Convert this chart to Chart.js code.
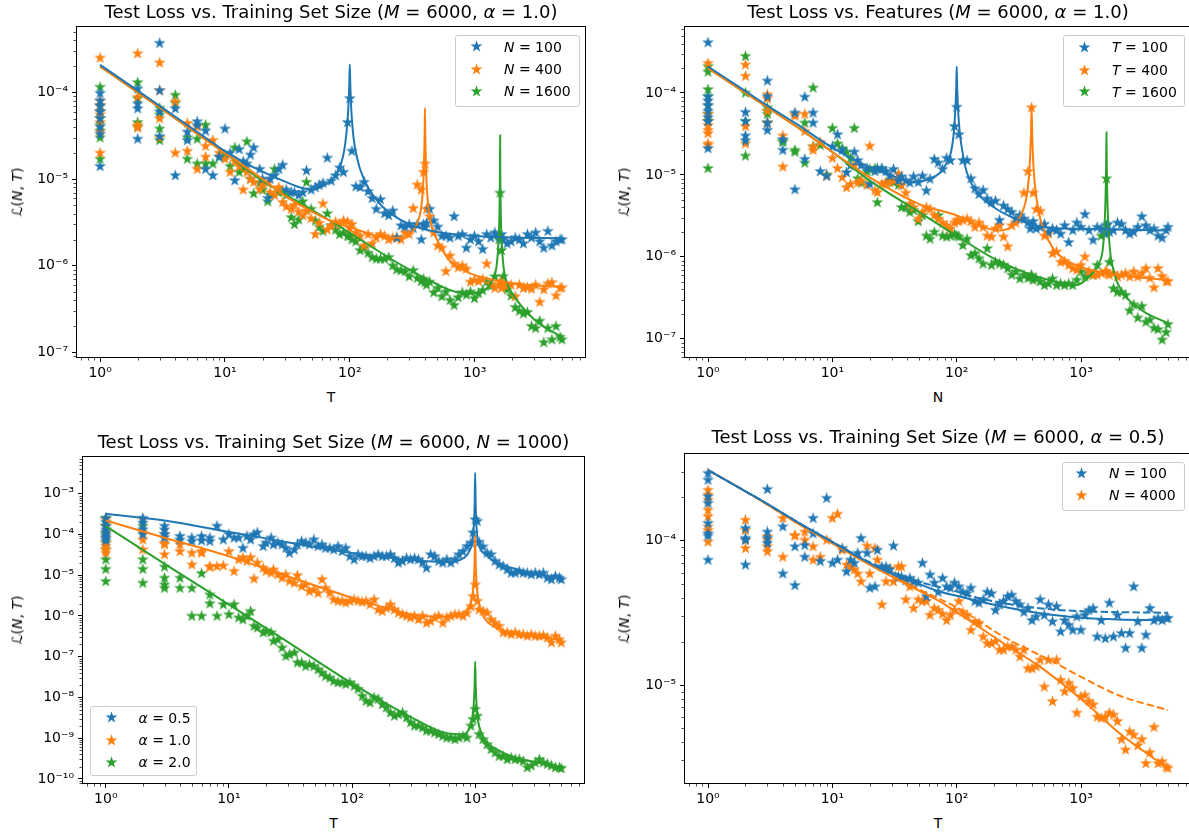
<!DOCTYPE html>
<html><head><meta charset="utf-8">
<script src="https://cdn.jsdelivr.net/npm/chart.js@4.4.1/dist/chart.umd.min.js"></script>
<style>
html,body{margin:0;padding:0;background:#fff;overflow:hidden;width:1189px;height:834px;}
body{position:relative;font-family:'DejaVu Sans',sans-serif;color:#000;}
canvas{position:absolute;}
.txt{position:absolute;white-space:nowrap;transform:translate(-50%,-50%);line-height:1;}
.title{font-size:18px;}
.lab{font-size:14px;}
.ylab{font-size:14px;transform:translate(-50%,-50%) rotate(-90deg);}
.legend{position:absolute;background:rgba(255,255,255,0.8);border:1px solid #cccccc;border-radius:3px;box-sizing:border-box;}
.legtxt{position:absolute;font-size:14px;white-space:nowrap;transform:translateY(-50%);line-height:1;}
</style>
</head><body>
<script>
// ---------------- DATA ----------------
// Panel 1: Test loss vs training set size T (M=6000, alpha=1.0)
const P1_T = [1,1,1,1,1,1,1,1, 2,2,2,2, 3,3,3,3, 4,4, 5,5, 6,6, 7,7,
 8,9,10,11,12,13,14,15,16,17,
 19,20,22,23,25,27,29,31,34,36,
 39,42,45,49,53,57,61,66,71,77,
 83,89,96,100,104,112,121,130,140,151,
 163,176,190,205,221,238,257,277,299,322,
 347,374,390,400,412,436,470,507,546,589,
 635,685,738,796,858,925,997,1075,1159,1250,
 1347,1452,1566,1600,1640,1688,1820,1962,2115,2280,
 2458,2650,2857,3080,3320,3579,3858,4160,4484,4834,
 5000];
const P1_N100 = [9.8e-5,8e-5,7e-5,6e-5,5e-5,4e-5,3.3e-5,1.4e-5, 1.1e-4,7.4e-5,6.5e-5,2.9e-5, 3.7e-4,1.05e-4,6e-5,3.1e-5, 6.5e-5,1.1e-5, 3.5e-5,2.8e-5, 4.6e-5,4.2e-5, 3.6e-5,1.3e-5,
 1.1e-5,1.8e-5,3.8e-5,2e-5,9.6e-6,2.2e-5,1.6e-5,1.5e-5,1.9e-5,2.3e-5,
 1.3e-5,1e-5,6e-6,1e-5,1.1e-5,1.3e-5,1.45e-5,7.5e-6,7e-6,7e-6,
 6.5e-6,7e-6,1.25e-5,7.5e-6,8e-6,8.5e-6,9e-6,1.75e-5,9.5e-6,1.1e-5,
 1.35e-5,1.2e-5,4.5e-5,8.5e-5,2.1e-5,8.2e-6,8e-6,9.2e-6,7.2e-6,6e-6,
 4.5e-6,5.8e-6,4e-6,3.8e-6,4.3e-6,2.1e-6,2.9e-6,2.8e-6,3e-6,2.7e-6,
 3e-6,2e-6,3e-6,2.8e-6,3.1e-6,4.5e-6,3.3e-6,2.8e-6,2.2e-6,2.2e-6,
 2.1e-6,3.7e-6,2.2e-6,2.3e-6,1.6e-6,2e-6,2.2e-6,1.9e-6,1.55e-6,2.3e-6,
 2.1e-6,2.4e-6,2.2e-6,2.1e-6,2.3e-6,2e-6,1.8e-6,1.9e-6,2.1e-6,2e-6,
 1.8e-6,2.3e-6,2.1e-6,2.4e-6,1.9e-6,1.6e-6,2.5e-6,1.7e-6,1.9e-6,2e-6,
 2e-6];
const P1_N400 = [2.5e-4,8e-5,7e-5,6e-5,5.5e-5,4.5e-5,3.5e-5,2e-5, 2.8e-4,8.8e-5,4.2e-5,3.9e-5, 2.2e-4,1.05e-4,5e-5,3e-5, 7.8e-5,2e-5, 4.4e-5,2.1e-5, 1.3e-5,4e-5, 2.4e-5,1.8e-5,
 2.8e-5,2e-5,1.7e-5,1.2e-5,1.6e-5,1.4e-5,7.5e-6,1.2e-5,1e-5,9.2e-6,
 7.6e-6,8.8e-6,9e-6,7e-6,6.5e-6,8e-6,5.4e-6,4.8e-6,4.5e-6,5e-6,
 4.2e-6,3.8e-6,4.3e-6,3.5e-6,2.3e-6,3.1e-6,5.2e-6,2.6e-6,2.9e-6,3.2e-6,
 3e-6,3.3e-6,3.2e-6,2.7e-6,3e-6,2.4e-6,2.2e-6,1.7e-6,2.3e-6,1.8e-6,
 2.1e-6,2.3e-6,2.2e-6,2e-6,2.1e-6,2.1e-6,2e-6,2.4e-6,2.3e-6,4.6e-6,
 8.6e-6,7.5e-6,1.2e-5,1.5e-5,4.5e-6,3.7e-6,2.4e-6,1.7e-6,1.6e-6,8.6e-7,
 1.3e-6,1.05e-6,9.5e-7,1e-6,9.2e-7,6.5e-7,6.8e-7,6.6e-7,7e-7,1.05e-6,
 6.2e-7,5.5e-7,6e-7,6.5e-7,5.5e-7,6.2e-7,5.8e-7,6e-7,4.4e-7,6e-7,
 5.5e-7,5.6e-7,5.4e-7,6e-7,3.8e-7,5.3e-7,6.2e-7,6.4e-7,4.5e-7,5.5e-7,
 5.6e-7];
const P1_N1600 = [1.15e-4,7e-5,6e-5,5e-5,4.2e-5,3.6e-5,3e-5,1.7e-5, 1.3e-4,8.5e-5,4.5e-5,4e-5, 6.6e-5,3.8e-5,2.8e-5,5.5e-5, 9.3e-5,7.5e-5, 1.7e-5,3e-5, 2.9e-5,1.5e-5, 4.2e-5,1.5e-5,
 1.5e-5,1.8e-5,1.9e-5,1.4e-5,2.3e-5,1.2e-5,1.3e-5,2.7e-5,1e-5,6.8e-6,
 9e-6,7.5e-6,5.5e-6,6.5e-6,1.3e-5,7e-6,7.2e-6,6.5e-6,3.6e-6,3e-6,
 3.4e-6,5.5e-6,9.2e-6,4.5e-6,3.3e-6,2.8e-6,2.5e-6,4e-6,2.9e-6,2.6e-6,
 2.3e-6,2.4e-6,2.2e-6,2.2e-6,2e-6,1.9e-6,1.5e-6,1.6e-6,1.4e-6,1.25e-6,
 1.2e-6,1.2e-6,1.2e-6,1.25e-6,1e-6,9e-7,8.8e-7,8.6e-7,7.5e-7,8.8e-7,
 7.2e-7,6.6e-7,7e-7,6.4e-7,6e-7,6.5e-7,4.9e-7,5.5e-7,4.4e-7,5e-7,
 4e-7,3.5e-7,4.3e-7,4.9e-7,4.6e-7,5e-7,4.2e-7,4.8e-7,5.2e-7,6.5e-7,
 5.8e-7,7.5e-7,2e-6,6.9e-6,1.5e-6,7.5e-7,5.3e-7,4.5e-7,3.3e-7,3e-7,
 2.8e-7,2.9e-7,2e-7,1.9e-7,2.3e-7,1.3e-7,1.9e-7,1.4e-7,2e-7,1.5e-7,
 1.4e-7];
const P1_LINE_N100 = [[1,2.08e-4],[2,1.05e-4],[3,7e-5],[5,4.2e-5],[7,3e-5],[10,2.1e-5],[15,1.5e-5],[20,1.22e-5],[30,9.4e-6],[40,8e-6],[50,7.6e-6],[60,8.2e-6],[70,9.5e-6],[80,1.2e-5],[85,1.5e-5],[90,2.1e-5],[94,3.4e-5],[97,6e-5],[99,1.2e-4],[100,2.1e-4],[101,1.2e-4],[103,6e-5],[106,3.5e-5],[110,2.3e-5],[120,1.35e-5],[130,1e-5],[140,8e-6],[170,5.4e-6],[200,4.3e-6],[300,3e-6],[500,2.45e-6],[1000,2.2e-6],[2000,2.12e-6],[5000,2.08e-6]];
const P1_LINE_N400 = [[1,2e-4],[2,1e-4],[3,6.7e-5],[5,4e-5],[10,2e-5],[20,1e-5],[30,6.5e-6],[50,4.2e-6],[70,3.3e-6],[100,2.8e-6],[150,2.3e-6],[200,2.1e-6],[250,2.1e-6],[300,2.3e-6],[340,2.9e-6],[370,4.3e-6],[385,7.5e-6],[393,1.5e-5],[398,3.5e-5],[400,6.6e-5],[402,3.5e-5],[407,1.5e-5],[415,7.5e-6],[430,4.3e-6],[460,2.6e-6],[500,2e-6],[600,1.25e-6],[800,9e-7],[1000,7.8e-7],[2000,6.3e-7],[5000,5.7e-7]];
const P1_LINE_N1600 = [[1,2e-4],[2,1e-4],[3,6.7e-5],[5,4e-5],[10,2e-5],[20,9.5e-6],[50,4.4e-6],[100,2.4e-6],[200,1.27e-6],[400,7.2e-7],[700,5e-7],[1000,4.8e-7],[1200,5.2e-7],[1400,7e-7],[1500,1e-6],[1550,1.8e-6],[1580,4e-6],[1595,1.2e-5],[1600,3.2e-5],[1605,1.2e-5],[1620,4e-6],[1650,1.8e-6],[1700,1e-6],[1800,6.5e-7],[2000,4.8e-7],[3000,2.4e-7],[5000,1.5e-7]];

// Panel 2: Test loss vs features N (M=6000, alpha=1.0)
const P2_N = P1_T.slice();
const P2_T100 = [4.1e-4,9e-5,8e-5,7e-5,6e-5,5e-5,4.5e-5,2.1e-5, 5.8e-5,3e-5,2.6e-5,4.5e-5, 1.4e-4,9e-5,3.5e-5,4.3e-5, 2e-5,2.7e-5, 5.7e-5,6.6e-6, 8.9e-5,1.55e-5, 5.7e-5,4.3e-5,
 1.1e-5,9.7e-6,2.2e-5,3.1e-5,2e-5,1.07e-5,1.3e-5,1.9e-5,1.5e-5,1.3e-5,
 1.2e-5,7.7e-6,1.1e-5,1.2e-5,1.2e-5,1.1e-5,9.7e-6,1.17e-5,8.5e-6,9.5e-6,
 8.5e-6,8e-6,9.5e-6,8.1e-6,9.7e-6,6.4e-6,8.9e-6,1.55e-5,1.4e-5,1.17e-5,
 1.6e-5,1.5e-5,3.9e-5,6.7e-5,3.1e-5,1.5e-5,1.5e-5,9e-6,6.8e-6,5.8e-6,
 6.5e-6,5.1e-6,4.6e-6,4.8e-6,2.8e-6,4.2e-6,3.8e-6,3.5e-6,2.9e-6,3.2e-6,
 2.9e-6,2.6e-6,2.2e-6,2.4e-6,2.7e-6,2.2e-6,2.3e-6,2.5e-6,2e-6,2.2e-6,
 2.1e-6,1.9e-6,2.4e-6,1.5e-6,2.1e-6,2.6e-6,2.3e-6,3.3e-6,2.1e-6,1.6e-6,
 2.3e-6,2.2e-6,1.9e-6,2.4e-6,2.5e-6,2e-6,2.1e-6,2.6e-6,2.5e-6,2.1e-6,
 1.9e-6,2e-6,2.3e-6,3.1e-6,2.4e-6,2.1e-6,2.2e-6,1.8e-6,1.7e-6,2.1e-6,
 2.3e-6];
const P2_T400 = [2.3e-4,5.5e-5,4.5e-5,4e-5,3.5e-5,3.2e-5,2.4e-5,2.3e-5, 2.2e-4,1.6e-4,3.9e-5,2.4e-5, 9.5e-5,8.5e-5,4.3e-5,6e-5, 3e-5,1.25e-5, 5.5e-5,5.2e-5, 5.5e-5,3.4e-5, 2e-5,2.2e-5,
 2.5e-5,9.7e-6,1.6e-5,1.2e-5,9.3e-6,7e-6,7.7e-6,1.3e-5,8e-6,8.5e-6,
 7.5e-6,2.25e-5,6.4e-6,6.1e-6,7.7e-6,8e-6,8.1e-6,8.5e-6,1.03e-5,7.4e-6,
 6e-6,4.4e-6,4e-6,2.9e-6,3.5e-6,4e-6,3.8e-6,3.2e-6,2.9e-6,2.6e-6,
 2.4e-6,2.2e-6,2.6e-6,2.8e-6,2.7e-6,2.8e-6,2.9e-6,2.7e-6,2.3e-6,2.6e-6,
 2.3e-6,1.8e-6,1.75e-6,2.2e-6,2.4e-6,1.75e-6,1.33e-6,2.4e-6,2.6e-6,2.9e-6,
 6e-6,1.1e-5,null,6.6e-5,6e-6,3.8e-6,3.6e-6,1.8e-6,1.9e-6,1.1e-6,
 1.15e-6,8.6e-7,8.8e-7,7.9e-7,7.2e-7,6.9e-7,7.9e-7,1e-6,6.6e-7,6e-7,
 6e-7,6.3e-7,6.6e-7,6.6e-7,6.2e-7,6e-7,6.3e-7,5.7e-7,6e-7,6.3e-7,
 5.7e-7,6.6e-7,5.7e-7,6.3e-7,7.2e-7,5.5e-7,4.2e-7,7.2e-7,5.8e-7,5e-7,
 5e-7];
const P2_T1600 = [2.1e-4,1.8e-4,1.1e-4,9e-5,7e-5,5.5e-5,4.5e-5,1.2e-5, 2.8e-4,1e-4,4.5e-5,1.7e-5, 6.6e-5,5.5e-5,4.3e-5,6e-5, 2.6e-5,2.5e-5, 2e-5,1.9e-5, 4.3e-5,1.4e-5, 1.15e-4,2.2e-5,
 2.3e-5,1e-5,3.7e-5,2.4e-5,2.1e-5,1.9e-5,1.6e-5,3.7e-5,9e-6,8e-6,
 1.1e-5,1.17e-5,1.2e-5,4.6e-6,1.17e-5,8e-6,8.5e-6,8.1e-6,7.5e-6,4e-6,
 4e-6,3.5e-6,3.7e-6,2.7e-6,3.2e-6,1.8e-6,1.65e-6,2e-6,3.2e-6,1.8e-6,
 1.75e-6,1.8e-6,1.9e-6,1.8e-6,1.75e-6,1.38e-6,1.65e-6,1.04e-6,1.1e-6,9.5e-7,
 8.2e-7,1.26e-6,7.9e-7,8.6e-7,8.2e-7,7.9e-7,7.2e-7,6e-7,6.6e-7,5.4e-7,
 6e-7,5.5e-7,5.7e-7,6e-7,5.2e-7,5.4e-7,5e-7,4.5e-7,4.7e-7,5.4e-7,
 4.5e-7,4.7e-7,4.5e-7,4.7e-7,4.5e-7,5.2e-7,6.6e-7,5.7e-7,6.3e-7,6e-7,
 7.9e-7,1.8e-6,null,9e-6,null,8.6e-7,4.1e-7,3.7e-7,3.7e-7,3.4e-7,
 2.2e-7,2.6e-7,1.8e-7,2.5e-7,1.6e-7,1.7e-7,1.35e-7,1.3e-7,9.7e-8,1.2e-7,
 1.5e-7];
const P2_LINE_T100 = [[1,2.1e-4],[2,1.05e-4],[3,7e-5],[5,4.3e-5],[10,2.15e-5],[20,1.23e-5],[30,9.8e-6],[45,8.1e-6],[60,8.9e-6],[75,1.1e-5],[85,1.5e-5],[90,1.9e-5],[94,2.9e-5],[97,5.5e-5],[99,1.1e-4],[100,2.1e-4],[101,1.1e-4],[103,5.5e-5],[106,3.2e-5],[110,2.1e-5],[120,1.1e-5],[150,5.8e-6],[200,4e-6],[300,2.9e-6],[500,2.3e-6],[1000,2.2e-6],[5000,2.1e-6]];
const P2_LINE_T400 = [[1,2e-4],[2,1e-4],[3,6.7e-5],[5,4e-5],[10,1.9e-5],[20,9.3e-6],[50,4.4e-6],[100,3.2e-6],[150,2.4e-6],[220,2.1e-6],[270,2.3e-6],[330,3.3e-6],[365,5.5e-6],[385,1.2e-5],[395,3e-5],[400,6.6e-5],[405,3e-5],[415,1.2e-5],[440,5e-6],[470,2.9e-6],[500,2.2e-6],[600,1.25e-6],[800,8.7e-7],[1000,7.5e-7],[2000,6e-7],[5000,5.2e-7]];
const P2_LINE_T1600 = [[1,2e-4],[2,1e-4],[3,6.7e-5],[5,4e-5],[10,1.9e-5],[20,8.5e-6],[50,3.5e-6],[100,1.8e-6],[200,9.5e-7],[400,6e-7],[700,4.8e-7],[900,4.5e-7],[1200,6e-7],[1400,8.5e-7],[1500,1.3e-6],[1560,3.5e-6],[1590,1.2e-5],[1600,3.3e-5],[1610,1.2e-5],[1640,3.5e-6],[1700,1.3e-6],[1800,7.5e-7],[2000,4.5e-7],[3000,2.3e-7],[5000,1.55e-7]];

// Panel 3: Test loss vs T (M=6000, N=1000), alpha = 0.5 / 1.0 / 2.0
const P3_T = [1,1,1,1,1,1,1,1, 2,2,2,2, 3,3,3,3, 4,4, 5,5, 6,6, 7,7,
 8,9,10,11,12,13,14,15,16,17,
 19,20,22,23,25,27,29,31,34,36,
 39,42,45,49,53,57,61,66,71,77,
 83,89,96,104,112,121,130,140,151,163,
 176,190,205,221,238,257,277,299,322,347,
 374,403,435,469,506,546,589,635,685,738,
 796,858,925,960,1000,1040,1075,1159,1250,1347,
 1452,1566,1688,1820,1962,2115,2280,2458,2650,2857,
 3080,3320,3579,3858,4160,4484,4834,5000];
const P3_A05 = [2.5e-4,2e-4,1.6e-4,1.3e-4,1.1e-4,9e-5,8e-5,7e-5, 2.5e-4,1.9e-4,1.3e-4,1e-4, 1.6e-4,1.3e-4,1e-4,8.5e-5, 9e-5,7.4e-5, 6.8e-5,8.2e-5, 9e-5,7e-5, 8.2e-5,6.8e-5,
 1.6e-4,7.4e-5,1e-4,8.2e-5,8.2e-5,4.6e-5,9e-5,7.4e-5,1e-4,1.1e-4,
 5.1e-5,6.2e-5,8.2e-5,5.6e-5,6.2e-5,5.6e-5,4.6e-5,3.5e-5,4.2e-5,5.6e-5,
 6.8e-5,6.2e-5,5.6e-5,7.4e-5,5.1e-5,5.6e-5,4.6e-5,4.6e-5,4.2e-5,5.1e-5,
 3.8e-5,4.6e-5,2.9e-5,2.4e-5,3.2e-5,2.9e-5,2.9e-5,2.6e-5,2.9e-5,3.2e-5,
 2.9e-5,2.9e-5,3.2e-5,2.6e-5,2e-5,2.2e-5,2.6e-5,2.4e-5,2.6e-5,2.4e-5,
 2e-5,1.5e-5,3.2e-5,2.9e-5,2.2e-5,2e-5,2.4e-5,2e-5,2.4e-5,3.2e-5,
 3.8e-5,5.1e-5,6.2e-5,1.1e-4,2.3e-4,2.1e-4,6.5e-5,5e-5,3.5e-5,3.2e-5,
 2.2e-5,1.8e-5,1.64e-5,1.36e-5,1.13e-5,1.13e-5,1.24e-5,1.13e-5,1.13e-5,1.03e-5,
 1.13e-5,1.03e-5,1.13e-5,8.5e-6,7.8e-6,9.4e-6,8.5e-6,7.8e-6];
const P3_A10 = [2.3e-4,1.6e-4,1.1e-4,8e-5,6.2e-5,5.1e-5,4.2e-5,3.5e-5, 2.3e-4,1.1e-4,7.4e-5,4.2e-5, 1e-4,5.6e-5,3.2e-5,6.2e-5, 5.6e-5,3.8e-5, 1.8e-5,3.5e-5, 3.5e-5,3.8e-5, 1.6e-5,1.6e-5,
 1.64e-5,1.7e-5,3.8e-5,1.24e-5,2.4e-5,2.7e-5,2.2e-5,2.7e-5,8.1e-6,2e-5,
 1.5e-5,1.24e-5,1.13e-5,1.36e-5,1.03e-5,8.5e-6,1.03e-5,7.1e-6,6.4e-6,9.8e-6,
 5.3e-6,5.8e-6,4e-6,4.4e-6,3.6e-6,7.8e-6,4.8e-6,3.6e-6,2.5e-6,2.3e-6,
 2.3e-6,2.1e-6,2.3e-6,2.5e-6,2.3e-6,2.2e-6,2.3e-6,1.9e-6,2.5e-6,1.42e-6,
 1.3e-6,1.55e-6,1.9e-6,1.42e-6,1.18e-6,1.08e-6,9.9e-7,9e-7,9.9e-7,8.1e-7,
 9.9e-7,6.7e-7,7.4e-7,9e-7,9.9e-7,6.7e-7,9e-7,9.9e-7,1.08e-6,1.08e-6,
 9.9e-7,1.18e-6,1.7e-6,3e-6,5.8e-6,2.3e-6,1.42e-6,1.3e-6,1.18e-6,8.1e-7,
 6.7e-7,5.6e-7,3.9e-7,3.9e-7,3.5e-7,3.9e-7,3.5e-7,3.5e-7,3.2e-7,3.5e-7,
 3.2e-7,3.2e-7,3.3e-7,2.9e-7,2.2e-7,3.2e-7,2.6e-7,2.2e-7];
const P3_A20 = [2.5e-4,1.6e-4,1e-4,6.2e-5,4.2e-5,2.4e-5,1.4e-5,7e-6, 1.6e-4,2.4e-5,1.4e-5,6.4e-6, 1.6e-5,8.5e-6,5.8e-6,4.8e-6, 8.5e-6,4.8e-6, 9.9e-7,4.8e-6, 1.1e-5,9.9e-7, 3.3e-6,2e-6,
 9.9e-7,1.9e-6,1.08e-6,1.9e-6,9e-7,8.1e-7,9.9e-7,1.3e-6,5.6e-7,5.1e-7,
 3.9e-7,4.2e-7,3.9e-7,2.4e-7,2.6e-7,1.65e-7,1.03e-7,1.13e-7,1.24e-7,7.1e-8,
 7.1e-8,5.8e-8,6.4e-8,5.8e-8,4.8e-8,4e-8,3.3e-8,3e-8,2.5e-8,2.3e-8,
 2.3e-8,2.1e-8,2.3e-8,1.9e-8,1.6e-8,1.08e-8,8.1e-9,7.4e-9,9.9e-9,9e-9,
 6.7e-9,5.6e-9,4.2e-9,3.5e-9,3.8e-9,4.2e-9,3.2e-9,2.4e-9,2e-9,2e-9,
 1.8e-9,1.5e-9,1.5e-9,1.35e-9,1.24e-9,1.12e-9,1.02e-9,1.02e-9,9.3e-10,1.02e-9,
 1.12e-9,1.02e-9,2e-9,2.9e-9,5.1e-9,3.5e-9,1.24e-9,9.3e-10,7e-10,5.3e-10,
 4.4e-10,3.6e-10,3.6e-10,3e-10,3.3e-10,3e-10,3e-10,2.7e-10,1.9e-10,2.1e-10,
 2.5e-10,3e-10,2.5e-10,2.3e-10,2.1e-10,1.9e-10,1.9e-10,1.8e-10];
const P3_LINE_A05 = [[1,3.2e-4],[3,2.2e-4],[10,1.15e-4],[20,8e-5],[40,5.5e-5],[100,3.5e-5],[200,2.7e-5],[400,2.2e-5],[600,2.1e-5],[800,2.6e-5],[900,4e-5],[960,9e-5],[990,5e-4],[1000,3.2e-3],[1010,5e-4],[1040,9e-5],[1100,4.5e-5],[1200,3.3e-5],[1500,2e-5],[2000,1.5e-5],[3000,1.1e-5],[5000,8.5e-6]];
const P3_LINE_A10 = [[1,2.2e-4],[3,8.3e-5],[10,2.9e-5],[30,9.4e-6],[100,2.8e-6],[300,1.1e-6],[600,9.5e-7],[800,1.2e-6],[900,1.8e-6],[960,4e-6],[990,2e-5],[1000,9.3e-5],[1010,2e-5],[1040,4e-6],[1100,1.5e-6],[1200,8.5e-7],[1500,5e-7],[2000,3.9e-7],[3000,3.1e-7],[5000,2.6e-7]];
const P3_LINE_A20 = [[1,1.6e-4],[3,1.9e-5],[10,1.9e-6],[30,2.3e-7],[100,2.2e-8],[300,3.3e-9],[600,1.3e-9],[800,1.25e-9],[900,1.8e-9],[960,4e-9],[990,2e-8],[1000,7.6e-8],[1010,2e-8],[1040,4e-9],[1100,1.6e-9],[1200,9e-10],[1500,5.3e-10],[2000,3.5e-10],[3000,2.6e-10],[5000,1.9e-10]];

// Panel 4: Test loss vs T (M=6000, alpha=0.5), N = 100 / 4000
const P4_T = [1,1,1,1,1,1,1,1, 2,2,2,2, 3,3,3,3, 4,4, 5,5, 6,6, 7,7,
 8,9,10,11,12,13,14,15,16,17,
 19,20,22,23,25,27,29,31,34,36,
 39,42,45,49,53,57,61,66,71,77,
 83,89,96,104,112,121,130,140,151,163,
 176,190,205,221,238,257,277,299,322,347,
 374,403,435,469,506,546,589,635,685,738,
 796,858,925,997,1075,1159,1250,1347,1452,1566,
 1688,1820,1962,2115,2280,2458,2650,2857,3080,3320,
 3579,3858,4160,4484,4834,5000];
const P4_N100 = [2.93e-4,2.63e-4,2.02e-4,1.82e-4,1.32e-4,1.12e-4,1.08e-4,7.35e-5, 1.22e-4,1.04e-4,1.01e-4,6.8e-5, 2.27e-4,1.15e-4,9.6e-5,1.04e-4, 1.25e-4,5.9e-5, 9.1e-5,4.9e-5, 9.3e-5,7.7e-5, 1.43e-4,1.12e-4,
 7.2e-5,1.97e-4,7e-5,7.35e-5,8.85e-5,6.1e-5,7.35e-5,7e-5,8.2e-5,1.04e-4,
 8.2e-5,4.7e-5,4.8e-5,8.6e-5,6.6e-5,6.6e-5,6.3e-5,9.2e-5,5.6e-5,5.6e-5,
 5.3e-5,5.5e-5,5.2e-5,5.1e-5,7e-5,4.1e-5,5.8e-5,5.1e-5,4.4e-5,5.5e-5,
 4.8e-5,4.7e-5,5.1e-5,4.8e-5,4.4e-5,4.3e-5,4.7e-5,3.8e-5,3.7e-5,3.9e-5,
 4.4e-5,4.3e-5,3.3e-5,3.6e-5,3.8e-5,4.1e-5,4.2e-5,3.8e-5,3.6e-5,3.2e-5,
 3.4e-5,2.8e-5,2.97e-5,3.9e-5,3.05e-5,3.6e-5,2.75e-5,3.5e-5,2.34e-5,2.8e-5,
 2.6e-5,2.4e-5,2.97e-5,2.4e-5,3.05e-5,3.3e-5,3.4e-5,2.16e-5,2.8e-5,2.1e-5,
 3.7e-5,2.16e-5,3.05e-5,2.28e-5,1.8e-5,2.28e-5,4.8e-5,2.75e-5,1.8e-5,2.22e-5,
 3.4e-5,2.8e-5,2.9e-5,2.8e-5,2.9e-5,2.9e-5];
const P4_N4000 = [2.24e-4,2.07e-4,1.91e-4,1.63e-4,1.47e-4,1.25e-4,1.18e-4,9.8e-5, 1.39e-4,1.18e-4,8.85e-5,1.01e-4, 1.07e-4,8.4e-5,9.1e-5,1.01e-4, 1.43e-4,7.7e-5, 1.08e-4,1.09e-4, 1.15e-4,1.01e-4, 7.35e-5,9.1e-5,
 7.7e-5,1.01e-4,1.43e-4,1.53e-4,8.6e-5,6.8e-5,6.6e-5,6.3e-5,5.9e-5,5.2e-5,
 9.2e-5,5.9e-5,8.85e-5,7.35e-5,3.6e-5,5.2e-5,6.4e-5,5.2e-5,6.6e-5,6.6e-5,
 3.9e-5,4.8e-5,3.4e-5,3.9e-5,3.8e-5,3.8e-5,3.05e-5,3.4e-5,3.3e-5,3.1e-5,
 2.8e-5,3.05e-5,3.3e-5,3.8e-5,3.2e-5,3.05e-5,2.4e-5,2.75e-5,2.68e-5,2.16e-5,
 1.94e-5,1.94e-5,2e-5,1.75e-5,1.75e-5,1.84e-5,1.84e-5,1.75e-5,1.57e-5,1.75e-5,
 1.3e-5,1.3e-5,1.34e-5,1.49e-5,9.7e-6,1.49e-5,7.7e-6,1.49e-5,1.08e-5,9e-6,
 1.03e-5,9.5e-6,6.4e-6,8.3e-6,8.5e-6,7.7e-6,7.3e-6,6e-6,5.9e-6,6e-6,
 6.4e-6,6.2e-6,5.6e-6,4.2e-6,3.55e-6,4.75e-6,4.5e-6,3.8e-6,4.2e-6,2.86e-6,
 3.4e-6,5.1e-6,2.86e-6,2.95e-6,2.7e-6,2.65e-6];
const P4_LINE_N100 = [[1,3.09e-4],[2,2.2e-4],[3,1.8e-4],[5,1.38e-4],[10,9.8e-5],[20,7e-5],[30,5.9e-5],[50,5e-5],[73,4.43e-5],[100,4.15e-5],[200,3.6e-5],[466,3.14e-5],[1000,2.93e-5],[2000,2.85e-5],[5000,2.82e-5]];
const P4_LINE_N100_DASH = [[1,3.09e-4],[2,2.2e-4],[3,1.8e-4],[5,1.38e-4],[10,9.8e-5],[20,7.1e-5],[30,6.1e-5],[50,5.2e-5],[100,4.45e-5],[136,4.1e-5],[200,3.8e-5],[466,3.4e-5],[1000,3.25e-5],[2000,3.2e-5],[5000,3.17e-5]];
const P4_LINE_N4000 = [[1,3.09e-4],[2,2.2e-4],[3,1.78e-4],[5,1.35e-4],[10,9.6e-5],[20,6.8e-5],[50,4.5e-5],[73,3.8e-5],[100,3.2e-5],[250,1.89e-5],[466,1.34e-5],[1000,8e-6],[2124,4.5e-6],[5000,2.65e-6]];
const P4_LINE_N4000_DASH = [[1,3.09e-4],[2,2.2e-4],[3,1.78e-4],[5,1.36e-4],[10,9.7e-5],[20,6.9e-5],[50,4.6e-5],[100,3.45e-5],[250,2.11e-5],[560,1.49e-5],[1000,1.14e-5],[2000,8.5e-6],[5000,6.7e-6]];

// Tick values and labels
const X_TICKS = [1,10,100,1000];
const X_TICK_LABELS = ['10⁰','10¹','10²','10³'];
const Y_TICKS_P12 = [1e-7,1e-6,1e-5,1e-4];
const Y_TICK_LABELS_P12 = ['10⁻⁷','10⁻⁶','10⁻⁵','10⁻⁴'];
const Y_TICKS_P3 = [1e-10,1e-9,1e-8,1e-7,1e-6,1e-5,1e-4,1e-3];
const Y_TICK_LABELS_P3 = ['10⁻¹⁰','10⁻⁹','10⁻⁸','10⁻⁷','10⁻⁶','10⁻⁵','10⁻⁴','10⁻³'];
const Y_TICKS_P4 = [1e-5,1e-4];
const Y_TICK_LABELS_P4 = ['10⁻⁵','10⁻⁴'];

// Text
const TITLES = ['Test Loss vs. Training Set Size (<i>M</i> = 6000, <i>α</i> = 1.0)',
                'Test Loss vs. Features (<i>M</i> = 6000, <i>α</i> = 1.0)',
                'Test Loss vs. Training Set Size (<i>M</i> = 6000, <i>N</i> = 1000)',
                'Test Loss vs. Training Set Size (<i>M</i> = 6000, <i>α</i> = 0.5)'];
const X_LABELS = ['T','N','T','T'];
const Y_LABEL = 'ℒ(<i>N</i>, <i>T</i>)';
const LEG1 = ['<i>N</i> = 100','<i>N</i> = 400','<i>N</i> = 1600'];
const LEG2 = ['<i>T</i> = 100','<i>T</i> = 400','<i>T</i> = 1600'];
const LEG3 = ['<i>α</i> = 0.5','<i>α</i> = 1.0','<i>α</i> = 2.0'];
const LEG4 = ['<i>N</i> = 100','<i>N</i> = 4000'];

// ---------------- RENDERING ----------------
const COLORS = {blue:'#1f77b4', orange:'#ff7f0e', green:'#2ca02c'};
Chart.defaults.font.family = "'DejaVu Sans', sans-serif";

function makeStar(color){
  const c = document.createElement('canvas'); c.width = 13; c.height = 13;
  const g = c.getContext('2d');
  const R = 4.3, r = R*0.381966, cx = 6.5, cy = 6.5;
  g.beginPath();
  for (let k=0;k<10;k++){
    const ang = -Math.PI/2 + k*Math.PI/5; const rad = (k%2===0)?R:r;
    const px = cx + rad*Math.cos(ang), py = cy + rad*Math.sin(ang);
    if(k===0) g.moveTo(px,py); else g.lineTo(px,py);
  }
  g.closePath(); g.fillStyle = color; g.fill();
  g.lineWidth = 1.2; g.strokeStyle = color; g.lineJoin='miter'; g.stroke();
  return c;
}
const STAR = {blue:makeStar(COLORS.blue), orange:makeStar(COLORS.orange), green:makeStar(COLORS.green)};

function pts(xs, ys){ const out=[]; const n=Math.min(xs.length, ys.length); for(let i=0;i<n;i++){ if(ys[i]!=null) out.push({x:xs[i], y:ys[i]}); } return out; }

const framePlugin = {
  id:'frame',
  afterDatasetsDraw(chart){
    const a = chart.chartArea, ctx = chart.ctx;
    ctx.save(); ctx.strokeStyle='#000'; ctx.lineWidth=1;
    const l=Math.round(a.left)-0.5, t=Math.round(a.top)-0.5, r=Math.round(a.right)+0.5, b=Math.round(a.bottom)+0.5;
    ctx.strokeRect(l,t,r-l,b-t);
    ctx.lineWidth = 0.7;
    const xs = chart.scales.x, ys = chart.scales.y;
    const minor = (mn,mx)=>{ const out=[]; for(let e=Math.floor(Math.log10(mn)); e<=Math.ceil(Math.log10(mx)); e++){ for(let m=2;m<=9;m++){ const v=m*Math.pow(10,e); if(v>=mn && v<=mx) out.push(v);} } return out; };
    ctx.beginPath();
    minor(xs.min, xs.max).forEach(v=>{ const px=Math.round(xs.getPixelForValue(v))+0.5; ctx.moveTo(px,b); ctx.lineTo(px,b+3); });
    minor(ys.min, ys.max).forEach(v=>{ const py=Math.round(ys.getPixelForValue(v))+0.5; ctx.moveTo(l,py); ctx.lineTo(l-3,py); });
    ctx.stroke();
    ctx.restore();
  }
};

const Y_W = 70, X_H = 32, PAD_T = 16, PAD_R = 10;

function buildPanel(p){
  const cx = p.plot.l - Y_W, cy = p.plot.t - PAD_T;
  const cw = (p.plot.r - p.plot.l) + Y_W + PAD_R;
  const ch = (p.plot.b - p.plot.t) + PAD_T + X_H;
  const cv = document.createElement('canvas');
  cv.width = cw; cv.height = ch;
  cv.style.left = cx+'px'; cv.style.top = cy+'px'; cv.style.width = cw+'px'; cv.style.height = ch+'px';
  document.body.appendChild(cv);
  const datasets = [];
  p.lines.forEach((ln,i)=>datasets.push({type:'line', data: ln.data.map(d=>({x:d[0], y:d[1]})), borderColor: COLORS[ln.color], backgroundColor: COLORS[ln.color], borderWidth:2, borderDash: ln.dash? [7.4,3.2]:[], pointRadius:0, fill:false, cubicInterpolationMode:'monotone', order:i}));
  p.scatter.forEach((s,i)=>datasets.push({type:'scatter', data: pts(s.x, s.y), pointStyle: STAR[s.color], pointRadius:5, showLine:false, order:10+i}));
  const tickFont = {family:"'DejaVu Sans', sans-serif", size:14};
  new Chart(cv, {
    type:'scatter', data:{datasets},
    options:{
      responsive:false, animation:false, devicePixelRatio:1, events:[],
      layout:{padding:{left:0, top:PAD_T, right:PAD_R, bottom:0}},
      plugins:{legend:{display:false}, tooltip:{enabled:false}},
      scales:{
        x:{type:'logarithmic', position:'bottom', min:Math.pow(10,p.xlog[0]), max:Math.pow(10,p.xlog[1]),
           afterFit:(s)=>{ s.height = X_H; },
           afterBuildTicks:(s)=>{ s.ticks = p.xTicks.map(v=>({value:v, major:true})); },
           ticks:{autoSkip:false, maxRotation:0, minRotation:0, padding:3, color:'#000', font:tickFont, callback:(v,i)=>p.xTickLabels[i]},
           grid:{display:true, drawOnChartArea:false, drawTicks:true, tickLength:5, tickColor:'#000', tickWidth:1},
           border:{display:false}},
        y:{type:'logarithmic', position:'left', min:Math.pow(10,p.ylog[0]), max:Math.pow(10,p.ylog[1]),
           afterFit:(s)=>{ s.width = Y_W; },
           afterBuildTicks:(s)=>{ s.ticks = p.yTicks.map(v=>({value:v, major:true})); },
           ticks:{autoSkip:false, padding:4, color:'#000', font:tickFont, callback:(v,i)=>p.yTickLabels[i]},
           grid:{display:true, drawOnChartArea:false, drawTicks:true, tickLength:5, tickColor:'#000', tickWidth:1},
           border:{display:false}}
      }
    },
    plugins:[framePlugin]
  });
  const midX = (p.plot.l + p.plot.r)/2, midY = (p.plot.t + p.plot.b)/2;
  addText('title', p.title, midX, p.titleY);
  addText('lab', p.xLabel, midX, p.xLabelY);
  addText('ylab', Y_LABEL, p.yLabelX, midY);
  addLegend(p.legend);
}

function addText(cls, html, x, y){
  const d = document.createElement('div'); d.className = 'txt '+cls; d.innerHTML = html;
  d.style.left = x+'px'; d.style.top = y+'px'; document.body.appendChild(d);
}

function addLegend(L){
  const box = document.createElement('div'); box.className='legend';
  box.style.left = L.box[0]+'px'; box.style.top = L.box[1]+'px';
  box.style.width = (L.box[2]-L.box[0])+'px'; box.style.height = (L.box[3]-L.box[1])+'px';
  document.body.appendChild(box);
  L.labels.forEach((lab,i)=>{
    const y = L.rows[i];
    const sc = document.createElement('canvas'); sc.width=13; sc.height=13;
    sc.getContext('2d').drawImage(STAR[L.colors[i]],0,0);
    sc.style.left = (L.starX-6.5)+'px'; sc.style.top = (y-6.5)+'px'; sc.style.zIndex = 2;
    document.body.appendChild(sc);
    const t = document.createElement('div'); t.className='legtxt'; t.innerHTML = lab;
    t.style.left = L.textX+'px'; t.style.top = y+'px'; t.style.zIndex = 2;
    document.body.appendChild(t);
  });
}

const panels = [
  { plot:{l:77,t:27,r:585,b:357}, xlog:[-0.185,3.884], ylog:[-7.053,-3.245],
    xTicks:X_TICKS, xTickLabels:X_TICK_LABELS, yTicks:Y_TICKS_P12, yTickLabels:Y_TICK_LABELS_P12,
    lines:[{data:P1_LINE_N100,color:'blue'},{data:P1_LINE_N400,color:'orange'},{data:P1_LINE_N1600,color:'green'}],
    scatter:[{x:P1_T,y:P1_N100,color:'blue'},{x:P1_T,y:P1_N400,color:'orange'},{x:P1_T,y:P1_N1600,color:'green'}],
    title:TITLES[0], titleY:12, xLabel:X_LABELS[0], xLabelY:397, yLabelX:17,
    legend:{box:[455,35,580,107], rows:[46.7,69,91.3], starX:476, textX:504, labels:LEG1, colors:['blue','orange','green']} },
  { plot:{l:685,t:27,r:1191,b:357}, xlog:[-0.185,3.884], ylog:[-7.198,-3.196],
    xTicks:X_TICKS, xTickLabels:X_TICK_LABELS, yTicks:Y_TICKS_P12, yTickLabels:Y_TICK_LABELS_P12,
    lines:[{data:P2_LINE_T100,color:'blue'},{data:P2_LINE_T400,color:'orange'},{data:P2_LINE_T1600,color:'green'}],
    scatter:[{x:P2_N,y:P2_T100,color:'blue'},{x:P2_N,y:P2_T400,color:'orange'},{x:P2_N,y:P2_T1600,color:'green'}],
    title:TITLES[1], titleY:12, xLabel:X_LABELS[1], xLabelY:397, yLabelX:624,
    legend:{box:[1063,35,1185,107], rows:[47.3,70,91.7], starX:1084, textX:1112, labels:LEG2, colors:['blue','orange','green']} },
  { plot:{l:83,t:457,r:584,b:783}, xlog:[-0.185,3.884], ylog:[-10.1,-2.1],
    xTicks:X_TICKS, xTickLabels:X_TICK_LABELS, yTicks:Y_TICKS_P3, yTickLabels:Y_TICK_LABELS_P3,
    lines:[{data:P3_LINE_A05,color:'blue'},{data:P3_LINE_A10,color:'orange'},{data:P3_LINE_A20,color:'green'}],
    scatter:[{x:P3_T,y:P3_A05,color:'blue'},{x:P3_T,y:P3_A10,color:'orange'},{x:P3_T,y:P3_A20,color:'green'}],
    title:TITLES[2], titleY:441.7, xLabel:X_LABELS[2], xLabelY:823, yLabelX:17,
    legend:{box:[90,706,197,776], rows:[717.7,740,762.3], starX:111.5, textX:138.5, labels:LEG3, colors:['blue','orange','green']} },
  { plot:{l:685,t:454,r:1191,b:783}, xlog:[-0.185,3.884], ylog:[-5.679,-3.399],
    xTicks:X_TICKS, xTickLabels:X_TICK_LABELS, yTicks:Y_TICKS_P4, yTickLabels:Y_TICK_LABELS_P4,
    lines:[{data:P4_LINE_N100,color:'blue'},{data:P4_LINE_N100_DASH,color:'blue',dash:true},{data:P4_LINE_N4000,color:'orange'},{data:P4_LINE_N4000_DASH,color:'orange',dash:true}],
    scatter:[{x:P4_T,y:P4_N100,color:'blue'},{x:P4_T,y:P4_N4000,color:'orange'}],
    title:TITLES[3], titleY:437.3, xLabel:X_LABELS[3], xLabelY:823, yLabelX:624,
    legend:{box:[1062,462,1185,511], rows:[473.3,495], starX:1081, textX:1109, labels:LEG4, colors:['blue','orange']} }
];
panels.forEach(buildPanel);
</script>
</body></html>
